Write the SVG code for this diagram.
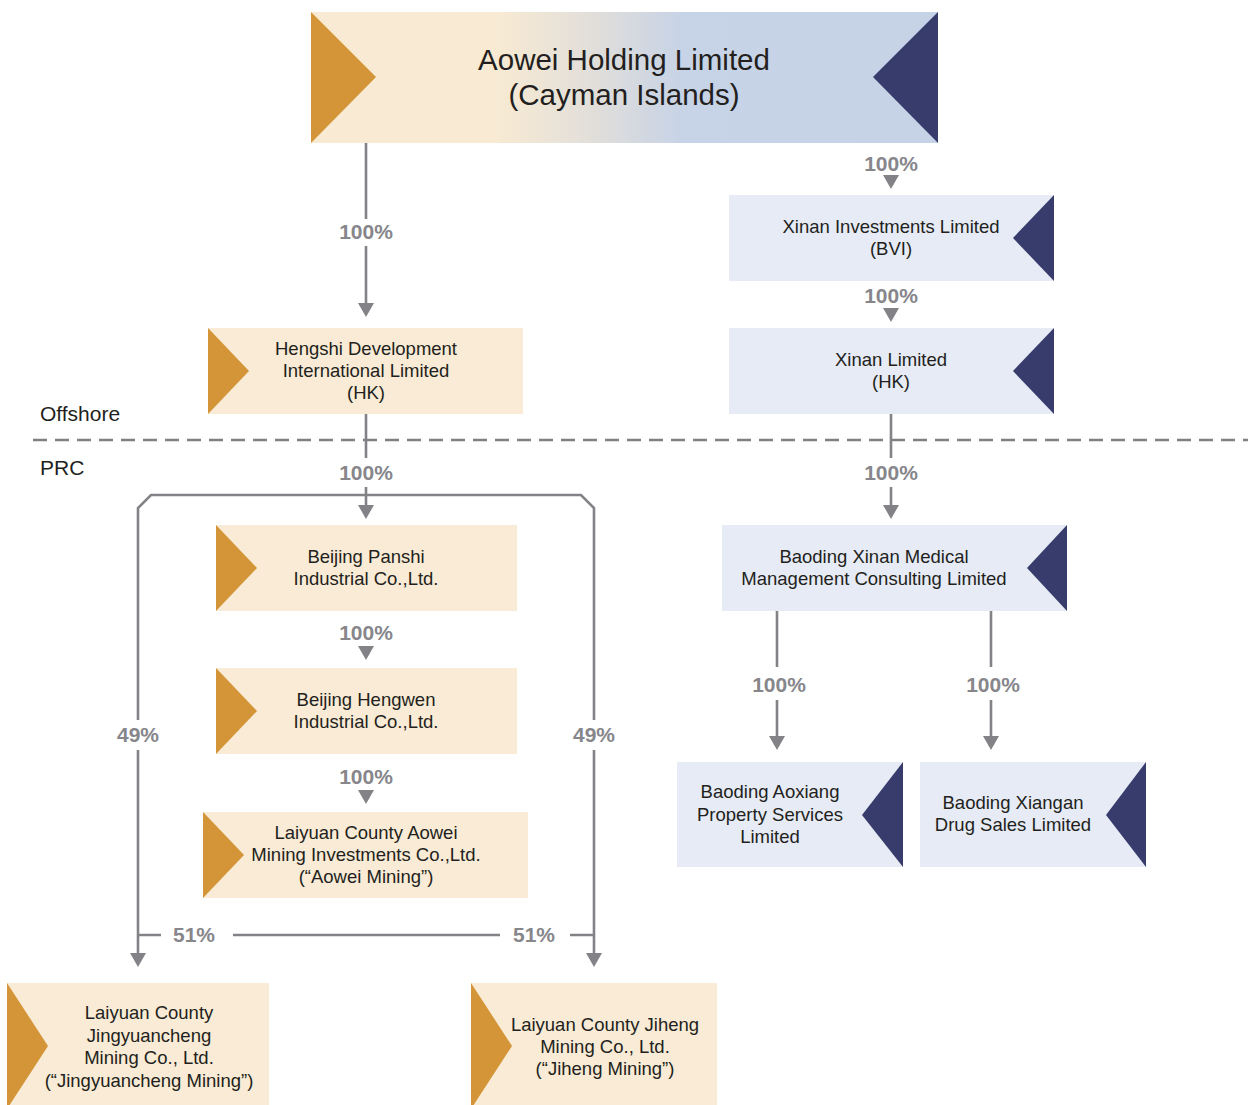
<svg xmlns="http://www.w3.org/2000/svg" xmlns:xlink="http://www.w3.org/1999/xlink" width="1248" height="1105" viewBox="0 0 1248 1105">
<style>
.cream{fill:#F9EBD5}
.blue{fill:#E6EBF5}
.org{fill:#D49538}
.navy{fill:#373C6C}
.t{font-family:"Liberation Sans",Arial,sans-serif;font-size:18.5px;fill:#231F20;text-anchor:middle;dominant-baseline:central}
.big{font-size:29.5px}
.pct{font-family:"Liberation Sans",Arial,sans-serif;font-size:21px;font-weight:bold;fill:#86868B;text-anchor:middle;dominant-baseline:central}
.side{font-family:"Liberation Sans",Arial,sans-serif;font-size:21px;fill:#231F20}
.ln{fill:none;stroke:#838387;stroke-width:2.6}
.ah{fill:#838387}
</style>
<defs>
<linearGradient id="g" gradientUnits="userSpaceOnUse" x1="311" y1="0" x2="938" y2="0">
<stop offset="0" stop-color="#F9EBD3"/>
<stop offset="0.29" stop-color="#F9EBD3"/>
<stop offset="0.44" stop-color="#E3DFD9"/>
<stop offset="0.59" stop-color="#C7D3E6"/>
<stop offset="1" stop-color="#C6D2E6"/>
</linearGradient>
<path id="ah" d="M-8,-14 L8,-14 L0,0 Z"/>
</defs>

<g id="top">
<rect x="311" y="12" width="627" height="131" fill="url(#g)"/>
<polygon class="org" points="311,12 376,77 311,143"/>
<polygon class="navy" points="938,12 873,77 938,143"/>
<text class="t big" x="624" y="59">Aowei Holding Limited</text>
<text class="t big" x="624" y="94">(Cayman Islands)</text>
</g>

<g id="xinan-inv">
<rect class="blue" x="729" y="195" width="325" height="86"/>
<polygon class="navy" points="1054,195 1013,238 1054,281"/>
<text class="t" x="891" y="226">Xinan Investments Limited</text>
<text class="t" x="891" y="248">(BVI)</text>
</g>

<g id="xinan-hk">
<rect class="blue" x="729" y="328" width="325" height="86"/>
<polygon class="navy" points="1054,328 1013,371 1054,414"/>
<text class="t" x="891" y="359">Xinan Limited</text>
<text class="t" x="891" y="381">(HK)</text>
</g>

<g id="hengshi">
<rect class="cream" x="208" y="328" width="315" height="86"/>
<polygon class="org" points="208,328 249,371 208,414"/>
<text class="t" x="366" y="348">Hengshi Development</text>
<text class="t" x="366" y="370">International Limited</text>
<text class="t" x="366" y="392">(HK)</text>
</g>

<g id="panshi">
<rect class="cream" x="216" y="525" width="301" height="86"/>
<polygon class="org" points="216,525 257,568 216,611"/>
<text class="t" x="366" y="556">Beijing Panshi</text>
<text class="t" x="366" y="578">Industrial Co.,Ltd.</text>
</g>

<g id="hengwen">
<rect class="cream" x="216" y="668" width="301" height="86"/>
<polygon class="org" points="216,668 257,711 216,754"/>
<text class="t" x="366" y="699">Beijing Hengwen</text>
<text class="t" x="366" y="721">Industrial Co.,Ltd.</text>
</g>

<g id="aowei-mining">
<rect class="cream" x="203" y="812" width="325" height="86"/>
<polygon class="org" points="203,812 244,855 203,898"/>
<text class="t" x="366" y="832">Laiyuan County Aowei</text>
<text class="t" x="366" y="854">Mining Investments Co.,Ltd.</text>
<text class="t" x="366" y="876">(“Aowei Mining”)</text>
</g>

<g id="jingyuancheng">
<rect class="cream" x="7" y="983" width="262" height="122"/>
<polygon class="org" points="7,983 48,1046 7,1109"/>
<text class="t" x="149" y="1012">Laiyuan County</text>
<text class="t" x="149" y="1035">Jingyuancheng</text>
<text class="t" x="149" y="1057">Mining Co., Ltd.</text>
<text class="t" x="149" y="1080">(“Jingyuancheng Mining”)</text>
</g>

<g id="jiheng">
<rect class="cream" x="471" y="983" width="246" height="122"/>
<polygon class="org" points="471,983 512,1046 471,1109"/>
<text class="t" x="605" y="1024">Laiyuan County Jiheng</text>
<text class="t" x="605" y="1046">Mining Co., Ltd.</text>
<text class="t" x="605" y="1068">(“Jiheng Mining”)</text>
</g>

<g id="baoding-xinan">
<rect class="blue" x="722" y="525" width="345" height="86"/>
<polygon class="navy" points="1067,525 1027,568 1067,611"/>
<text class="t" x="874" y="556">Baoding Xinan Medical</text>
<text class="t" x="874" y="578">Management Consulting Limited</text>
</g>

<g id="aoxiang">
<rect class="blue" x="677" y="762" width="226" height="105"/>
<polygon class="navy" points="903,762 862,815 903,867"/>
<text class="t" x="770" y="791">Baoding Aoxiang</text>
<text class="t" x="770" y="814">Property Services</text>
<text class="t" x="770" y="836">Limited</text>
</g>

<g id="xiangan">
<rect class="blue" x="920" y="762" width="226" height="105"/>
<polygon class="navy" points="1146,762 1106,815 1146,867"/>
<text class="t" x="1013" y="802">Baoding Xiangan</text>
<text class="t" x="1013" y="824">Drug Sales Limited</text>
</g>

<g id="boundary">
<line x1="33" y1="440" x2="1248" y2="440" stroke="#808084" stroke-width="2.5" stroke-dasharray="14,8"/>
<text class="side" x="40" y="421">Offshore</text>
<text class="side" x="40" y="475">PRC</text>
</g>

<g id="connectors">
<path class="ln" d="M366,143 V219 M366,246 V304"/>
<use href="#ah" class="ah" x="366" y="317"/>
<text class="pct" x="366" y="231">100%</text>

<use href="#ah" class="ah" x="891" y="189"/>
<text class="pct" x="891" y="163">100%</text>

<use href="#ah" class="ah" x="891" y="322"/>
<text class="pct" x="891" y="295">100%</text>

<path class="ln" d="M366,414 V458 M366,487 V506"/>
<use href="#ah" class="ah" x="366" y="519"/>
<text class="pct" x="366" y="472">100%</text>

<path class="ln" d="M138,720 V508 L151,495 H581 L594,508 V720 M138,750 V955 M594,750 V955"/>
<use href="#ah" class="ah" x="138" y="967"/>
<use href="#ah" class="ah" x="594" y="967"/>
<text class="pct" x="138" y="734">49%</text>
<text class="pct" x="594" y="734">49%</text>

<path class="ln" d="M138,935 H161 M233,935 H500 M570,935 H594"/>
<text class="pct" x="194" y="934">51%</text>
<text class="pct" x="534" y="934">51%</text>

<use href="#ah" class="ah" x="366" y="660"/>
<text class="pct" x="366" y="632">100%</text>

<use href="#ah" class="ah" x="366" y="804"/>
<text class="pct" x="366" y="776">100%</text>

<path class="ln" d="M891,414 V458 M891,487 V506"/>
<use href="#ah" class="ah" x="891" y="519"/>
<text class="pct" x="891" y="472">100%</text>

<path class="ln" d="M777,611 V667 M777,700 V737"/>
<use href="#ah" class="ah" x="777" y="750"/>
<text class="pct" x="779" y="684">100%</text>

<path class="ln" d="M991,611 V667 M991,700 V737"/>
<use href="#ah" class="ah" x="991" y="750"/>
<text class="pct" x="993" y="684">100%</text>
</g>
</svg>
